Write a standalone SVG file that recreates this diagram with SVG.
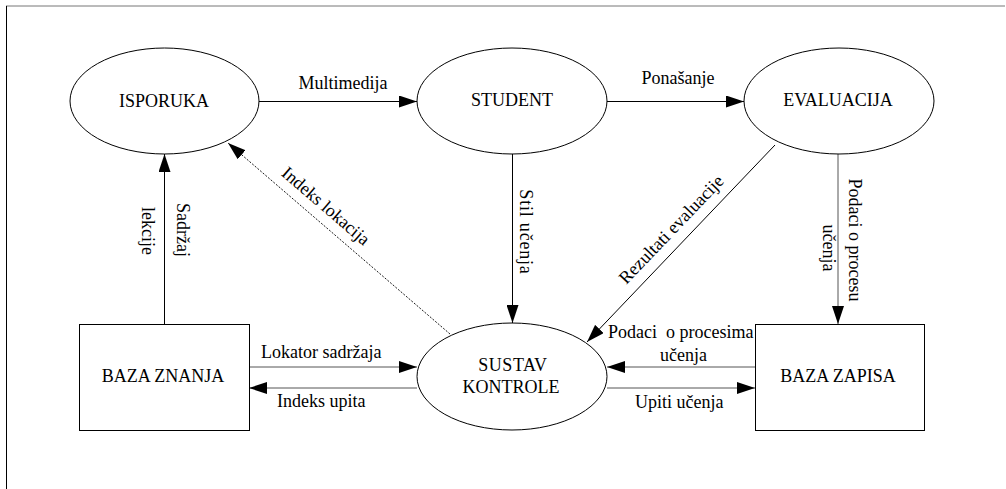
<svg xmlns="http://www.w3.org/2000/svg" width="1006" height="489" viewBox="0 0 1006 489">
<style>
text{font-family:"Liberation Serif","Times New Roman",serif;font-size:18px;fill:#000}
.node{fill:#fff;stroke:#000;stroke-width:1}
.c{stroke:#000;stroke-width:1;fill:none;marker-end:url(#arr)}
.g{stroke:#555}
.dot{stroke-dasharray:2,1.5;stroke-width:0.9}
.m{text-anchor:middle}
</style>
<defs>
<marker id="arr" markerUnits="userSpaceOnUse" markerWidth="18" markerHeight="12" refX="18" refY="6" orient="auto">
<path d="M0,0 L18,6 L0,12 z" fill="#000"/>
</marker>
</defs>
<rect width="1006" height="489" fill="#fff"/>
<g id="frame">
<line x1="6" y1="6" x2="1005" y2="6" stroke="#777" stroke-width="1"/>
<line x1="6.5" y1="6" x2="6.5" y2="489" stroke="#000" stroke-width="1"/>
</g>
<g id="connectors">
<line class="c" x1="259" y1="101.5" x2="417" y2="101.5"/>
<text class="m" x="343" y="88.5">Multimedija</text>
<line class="c" x1="607" y1="101.5" x2="744" y2="101.5"/>
<text class="m" x="678" y="84">Ponašanje</text>
<line class="c" x1="512.5" y1="154" x2="512.5" y2="323"/>
<text class="m" transform="translate(520,232) rotate(90)" letter-spacing="0.8">Stil učenja</text>
<line class="c g" x1="838" y1="154" x2="838" y2="324"/>
<text class="m" transform="translate(849,240) rotate(90)">Podaci o procesu</text>
<text class="m" transform="translate(823,248) rotate(90)">učenja</text>
<line class="c" x1="164.5" y1="324" x2="164.5" y2="154"/>
<text class="m" transform="translate(177,230) rotate(90)">Sadržaj</text>
<text class="m" transform="translate(141.5,231) rotate(90)">lekcije</text>
<line class="c dot" x1="450" y1="334" x2="228" y2="143"/>
<text class="m" transform="translate(322,210.5) rotate(40.7)">Indeks lokacija</text>
<line class="c" x1="775" y1="145" x2="587" y2="342"/>
<text class="m" transform="translate(675.5,233.5) rotate(-46.3)">Rezultati evaluacije</text>
<line class="c g" x1="249" y1="367" x2="417" y2="367"/>
<text x="261" y="358">Lokator sadržaja</text>
<line class="c g" x1="417" y1="388" x2="249" y2="388"/>
<text x="277" y="407">Indeks upita</text>
<line class="c g" x1="755" y1="367" x2="607" y2="367"/>
<text x="608" y="338" xml:space="preserve">Podaci  o procesima</text>
<text x="660" y="361">učenja</text>
<line class="c g" x1="607" y1="388" x2="755" y2="388"/>
<text x="635" y="408">Upiti učenja</text>
</g>
<g id="isporuka">
<ellipse class="node" cx="164.5" cy="101" rx="94.5" ry="53"/>
<text class="m" x="164" y="107">ISPORUKA</text>
</g>
<g id="student">
<ellipse class="node" cx="512" cy="101" rx="95" ry="53"/>
<text class="m" x="512" y="106">STUDENT</text>
</g>
<g id="evaluacija">
<ellipse class="node" cx="839" cy="101" rx="95" ry="53"/>
<text class="m" x="838" y="106">EVALUACIJA</text>
</g>
<g id="sustav-kontrole">
<ellipse class="node" cx="512" cy="376.5" rx="95" ry="53.5"/>
<text class="m" x="513" y="371" letter-spacing="0.5">SUSTAV</text>
<text class="m" x="511" y="393">KONTROLE</text>
</g>
<g id="baza-znanja">
<rect class="node" x="79.5" y="324.5" width="170" height="106"/>
<text class="m" x="163" y="382">BAZA ZNANJA</text>
</g>
<g id="baza-zapisa">
<rect class="node" x="755.5" y="324.5" width="169" height="106"/>
<text class="m" x="838" y="382">BAZA ZAPISA</text>
</g>
</svg>
